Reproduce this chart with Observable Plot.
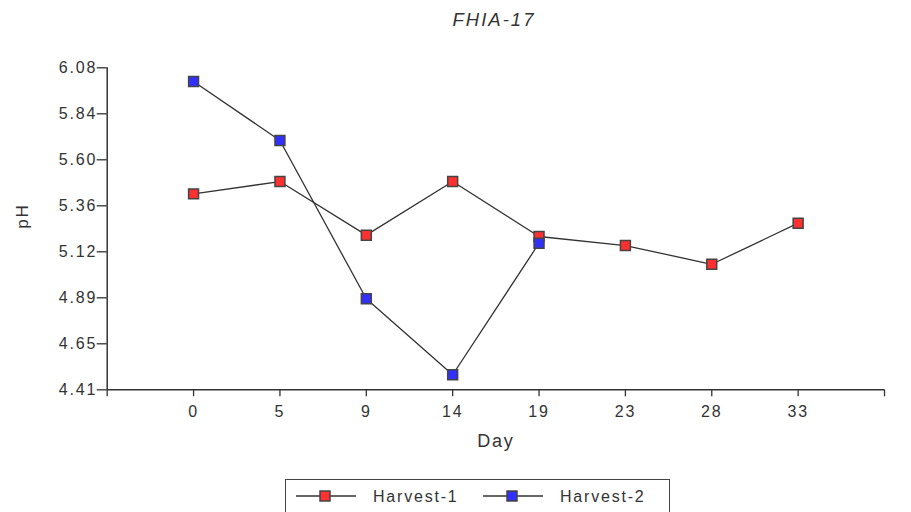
<!DOCTYPE html>
<html><head><meta charset="utf-8">
<script src="https://cdn.jsdelivr.net/npm/d3@7"></script>
<script src="https://cdn.jsdelivr.net/npm/@observablehq/plot@0.6"></script>
<style>
body{margin:0;background:#fff;font-family:"Liberation Sans",Arial,sans-serif;color:#333;}
#wrap{position:relative;width:911px;height:512px;overflow:hidden;}
#title{position:absolute;left:494px;top:9px;transform:translateX(-50%);font-style:italic;font-size:18.5px;letter-spacing:2px;white-space:nowrap;}
#chart{position:absolute;left:0;top:40px;}
#chart svg text{letter-spacing:1.8px;}
#legend{position:absolute;left:285px;top:479px;width:385px;height:60px;border:1.5px solid #444;border-bottom:none;box-sizing:border-box;}
</style>
</head><body>
<div id="wrap">
<div id="title">FHIA-17</div>
<div id="chart"></div>
<div id="legend"></div>
</div>
<script>
const days = ["0","5","9","14","19","23","28","33"];
const harvest1 = [5.426, 5.490, 5.212, 5.490, 5.205, 5.158, 5.061, 5.274];
const harvest2 = [6.009, 5.703, 4.882, 4.488, 5.170];
const seriesNames = ["Harvest-1", "Harvest-2"];
const seriesColors = ["#ff3030", "#3030ff"];
const yTickValues = [4.41, 4.6486, 4.8871, 5.1257, 5.3643, 5.6029, 5.8414, 6.08];
const yTickLabels = ["4.41","4.65","4.89","5.12","5.36","5.60","5.84","6.08"];

const data = [];
harvest1.forEach((v, i) => data.push({series: seriesNames[0], idx: i, ph: v}));
harvest2.forEach((v, i) => data.push({series: seriesNames[1], idx: i, ph: v}));

const xTicks = [-1, ...days.map((d, i) => i), days.length];

const chart = Plot.plot({
  width: 911, height: 439,
  marginLeft: 106.7, marginRight: 27, marginTop: 27.3, marginBottom: 89.7,
  x: {type: "linear", domain: [-1, days.length]},
  y: {domain: [yTickValues[0], yTickValues[yTickValues.length - 1]]},
  color: {domain: seriesNames, range: seriesColors},
  style: {fontFamily: "'Liberation Sans', Arial, sans-serif", fontSize: "16px", color: "#333", background: "white", overflow: "visible"},
  marks: [
    Plot.axisY({ticks: yTickValues, tickFormat: d => yTickLabels[yTickValues.indexOf(d)], tickSize: 10, tickPadding: 0, label: null, stroke: "#333", strokeWidth: 1.3}),
    Plot.axisX({ticks: xTicks, tickFormat: d => (d >= 0 && d < days.length) ? days[d] : "", tickSize: 7, tickPadding: 9, label: null, stroke: "#333", strokeWidth: 1.3}),
    Plot.ruleX([-1], {stroke: "#333", strokeWidth: 1.5}),
    Plot.ruleY([yTickValues[0]], {stroke: "#333", strokeWidth: 1.5}),
    Plot.line(data, {x: "idx", y: "ph", z: "series", stroke: "#333", strokeWidth: 1.3}),
    Plot.dot(data, {x: "idx", y: "ph", symbol: "square", r: 5.6, fill: "series", stroke: "#444", strokeWidth: 1.5}),
    Plot.text(["Day"], {frameAnchor: "bottom", dy: 57, fontSize: 18, fill: "#333"}),
    Plot.text(["pH"], {frameAnchor: "left", dx: -85, rotate: -90, fontSize: 17, fill: "#333"})
  ]
});
document.getElementById("chart").appendChild(chart);

// legend
const ns = "http://www.w3.org/2000/svg";
const lg = document.createElementNS(ns, "svg");
lg.setAttribute("width", 385); lg.setAttribute("height", 33);
lg.style.fontFamily = "'Liberation Sans', Arial, sans-serif";
const itemX = [10, 197];
seriesNames.forEach((name, i) => {
  const x0 = itemX[i];
  const line = document.createElementNS(ns, "line");
  line.setAttribute("x1", x0); line.setAttribute("x2", x0 + 60);
  line.setAttribute("y1", 16); line.setAttribute("y2", 16);
  line.setAttribute("stroke", "#333"); line.setAttribute("stroke-width", 1.3);
  lg.appendChild(line);
  const r = document.createElementNS(ns, "rect");
  r.setAttribute("x", x0 + 24); r.setAttribute("y", 11);
  r.setAttribute("width", 10); r.setAttribute("height", 10);
  r.setAttribute("fill", seriesColors[i]); r.setAttribute("stroke", "#444"); r.setAttribute("stroke-width", 1.5);
  lg.appendChild(r);
  const t = document.createElementNS(ns, "text");
  t.setAttribute("x", x0 + 77); t.setAttribute("y", 21.5);
  t.setAttribute("font-size", 16); t.setAttribute("fill", "#333");
  t.setAttribute("letter-spacing", "1.8px");
  t.textContent = name;
  lg.appendChild(t);
});
document.getElementById("legend").appendChild(lg);
</script>
</body></html>
